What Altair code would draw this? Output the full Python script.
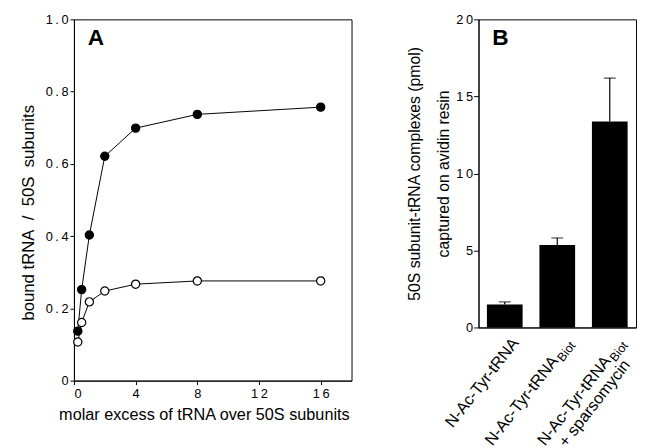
import altair as alt
import pandas as pd

FONT = "Liberation Sans"
THIN = "\u2009"
NB = "\u00a0"

# ---------------- Panel A data ----------------
excess = [0.25, 0.5, 1, 2, 4, 8, 16]
bound_filled = [0.137, 0.252, 0.403, 0.621, 0.699, 0.737, 0.757]
bound_open = [0.107, 0.161, 0.218, 0.248, 0.267, 0.276, 0.276]
x_ticks_a = [0, 4, 8, 12, 16]
y_ticks_a = [0, 0.2, 0.4, 0.6, 0.8, 1.0]

# ---------------- Panel B data ----------------
conditions = ["c1", "c2", "c3"]
captured = [1.49, 5.35, 13.37]
captured_err = [0.17, 0.46, 2.82]
label_main = ["N-Ac-Tyr-tRNA", "N-Ac-Tyr-tRNA", "N-Ac-Tyr-tRNA"]
label_sub = ["", "Biot", "Biot"]
label_line2 = ["", "", "+ sparsomycin"]
y_ticks_b = [0, 5, 10, 15, 20]

df_a = pd.DataFrame({
    "excess": excess + excess,
    "bound": bound_filled + bound_open,
    "series": ["filled"] * len(excess) + ["open"] * len(excess),
})
df_b = pd.DataFrame({
    "cond": conditions,
    "val": captured,
    "top": [v + e for v, e in zip(captured, captured_err)],
    "main": label_main,
    "sub": label_sub,
    "line2": label_line2,
})

W_A, H_A = 282, 367
W_B, H_B = 160, 313

spaced = "join(split(datum.label, ''), '" + THIN + "')"

x_a = alt.X("excess:Q", scale=alt.Scale(domain=[0, 18], nice=False),
            axis=alt.Axis(values=x_ticks_a, title="molar excess of tRNA over 50S subunits",
                          labelExpr=spaced, tickSize=4, labelPadding=3,
                          titlePadding=7, titleX=132, titleFontSize=16.5))
y_a = alt.Y("bound:Q", scale=alt.Scale(domain=[0, 1], nice=False),
            axis=alt.Axis(values=y_ticks_a,
                          title="bound tRNA" + NB + " /" + NB + " 50S" + NB + " subunits",
                          labelExpr="datum.value == 0 ? '0' : join(split(format(datum.value, '.1f'), ''), '" + THIN + "')",
                          tickSize=4, labelPadding=2, titlePadding=8, titleY=196, titleFontSize=17))

base_a = alt.Chart(df_a)
lines = base_a.mark_line(color="black", strokeWidth=1).encode(x=x_a, y=y_a, detail="series:N")
points = base_a.mark_point(filled=True, size=70, stroke="black", strokeWidth=1.2, opacity=1).encode(
    x=x_a, y=y_a,
    fill=alt.Fill("series:N", scale=alt.Scale(domain=["filled", "open"], range=["black", "white"]), legend=None),
    order=alt.Order("series:N"),
)
tag_a = alt.Chart(pd.DataFrame({"t": ["A"]})).mark_text(
    font=FONT, fontSize=23, fontWeight="bold", align="left", baseline="top", color="black"
).encode(x=alt.value(14), y=alt.value(8), text="t:N")

panel_a = alt.layer(lines, points, tag_a).properties(width=W_A, height=H_A)

# ---------------- Panel B ----------------
x_b = alt.X("cond:N", sort=conditions,
            scale=alt.Scale(paddingInner=0.32, paddingOuter=0.16),
            axis=alt.Axis(labels=False, ticks=False, title=None))
y_b = alt.Y("val:Q", scale=alt.Scale(domain=[0, 20], nice=False),
            axis=alt.Axis(values=y_ticks_b,
                          title=["50S subunit-tRNA complexes (pmol)", "captured on avidin resin"],
                          labelExpr=spaced, tickSize=5, labelPadding=1, titlePadding=4,
                          titleLineHeight=30))

base_b = alt.Chart(df_b)
bars = base_b.mark_bar(color="black").encode(x=x_b, y=y_b)
errs = base_b.mark_rule(color="black", strokeWidth=1.2).encode(x=x_b, y="val:Q", y2="top:Q")
caps = base_b.mark_tick(color="black", thickness=1.2, size=12).encode(x=x_b, y="top:Q")

LBL_Y = H_B + 13
ANG = 308
lab_plain = base_b.transform_filter("datum.sub == ''").mark_text(
    font=FONT, fontSize=16.5, angle=ANG, align="right", baseline="middle", color="black", xOffset=11
).encode(x=x_b, y=alt.value(LBL_Y), text="main:N")
lab_main_sub = base_b.transform_filter("datum.sub != ''").mark_text(
    font=FONT, fontSize=16.5, angle=ANG, align="right", baseline="middle", color="black", xOffset=12, dx=-23
).encode(x=x_b, y=alt.value(LBL_Y), text="main:N")
lab_sub = base_b.transform_filter("datum.sub != ''").mark_text(
    font=FONT, fontSize=12.5, angle=ANG, align="right", baseline="middle", color="black", xOffset=12, dy=5
).encode(x=x_b, y=alt.value(LBL_Y), text="sub:N")
lab_line2 = base_b.transform_filter("datum.line2 != ''").mark_text(
    font=FONT, fontSize=16.5, angle=ANG, align="right", baseline="middle", color="black", xOffset=12, dx=-14, dy=18
).encode(x=x_b, y=alt.value(LBL_Y), text="line2:N")

tag_b = alt.Chart(pd.DataFrame({"t": ["B"]})).mark_text(
    font=FONT, fontSize=23, fontWeight="bold", align="left", baseline="top", color="black"
).encode(x=alt.value(14), y=alt.value(8), text="t:N")

panel_b = alt.layer(bars, errs, caps, lab_plain, lab_main_sub, lab_sub, lab_line2, tag_b).properties(
    width=W_B, height=H_B)

chart = alt.hconcat(panel_a, panel_b, spacing=129, bounds="flush").properties(
    padding={"left": 11, "top": 1, "right": 0, "bottom": 0},
    background="white",
).configure_view(
    stroke="black", strokeWidth=1
).configure_axis(
    grid=False, domainColor="black", tickColor="black", labelColor="black", titleColor="black",
    labelFont=FONT, titleFont=FONT, labelFontSize=13, titleFontSize=16, titleFontWeight="normal",
    domainWidth=1, tickWidth=1
)

chart.save("out.html", embed_options={"renderer": "svg", "actions": False})
